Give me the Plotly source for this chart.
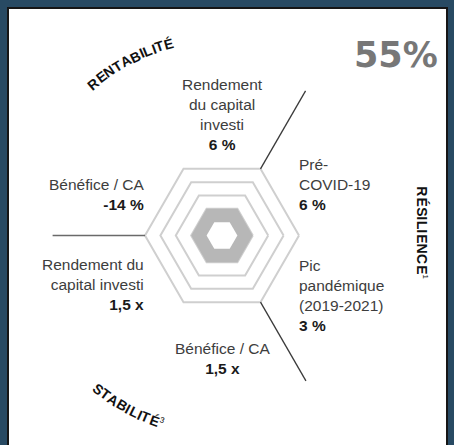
import math
import plotly.graph_objects as go

# ---------------- data ----------------
vertices = ["0°", "60°", "120°", "180°", "240°", "300°"]          # hexagon corners
ring_levels = [1, 2, 3, 4, 5]                                       # concentric hexagons
band_outer = [2, 2, 2, 2, 2, 2]                                     # grey band outer edge
band_inner = [1, 1, 1, 1, 1, 1]                                     # grey band inner edge
separator_vertices = ["60°", "180°", "300°"]                        # pillar boundaries
separator_start = [5, 5, 5]
separator_end = [10.85, 11.0, 10.9]

metric_labels = [
    "Rendement<br>du capital<br>investi",
    "Pré-<br>COVID-19",
    "Pic<br>pandémique<br>(2019-2021)",
    "Bénéfice / CA",
    "Rendement du<br>capital investi",
    "Bénéfice / CA",
]
metric_values = ["6 %", "6 %", "3 %", "1,5 x", "1,5 x", "-14 %"]
pillar_names = ["RENTABILITÉ", "RÉSILIENCE", "STABILITÉ"]
pillar_notes = ["", "1", "3"]
score_text = "55%"

# ---------------- geometry / style ----------------
W, H = 454, 445
CX, CY = 222, 235.5          # centre of the hexagon (px)
UNIT = 15.4                  # px per radial unit
RMAX = 11.1
NAVY = "#284a63"


def pfx(x):
    return x / W


def pfy(y):
    return 1 - y / H


fig = go.Figure()

# grey band
fig.add_trace(go.Scatterpolar(
    r=band_outer + band_outer[:1], theta=vertices + vertices[:1],
    mode="lines", fill="toself", fillcolor="#b7b7b7",
    line=dict(width=0, color="#b7b7b7"), hoverinfo="skip"))
fig.add_trace(go.Scatterpolar(
    r=band_inner + band_inner[:1], theta=vertices + vertices[:1],
    mode="lines", fill="toself", fillcolor="#ffffff",
    line=dict(width=0, color="#ffffff"), hoverinfo="skip"))

# separators between pillars
sep_colors = ["#3a3a3a", "#6a6a6a", "#3a3a3a"]
for v, r0, r1, c in zip(separator_vertices, separator_start, separator_end, sep_colors):
    fig.add_trace(go.Scatterpolar(
        r=[r0, r1], theta=[v, v], mode="lines",
        line=dict(color=c, width=1.3), hoverinfo="skip"))

R_PX = RMAX * UNIT
fig.update_layout(
    width=W, height=H,
    margin=dict(l=0, r=0, t=0, b=0),
    paper_bgcolor=NAVY,
    showlegend=False,
    polar=dict(
        domain=dict(x=[pfx(CX - R_PX), pfx(CX + R_PX)],
                    y=[pfy(CY + R_PX), pfy(CY - R_PX)]),
        bgcolor="rgba(0,0,0,0)",
        gridshape="linear",
        radialaxis=dict(range=[0, RMAX], tickvals=ring_levels, showticklabels=False,
                        ticks="", showline=False, gridcolor="#cfcfcf", gridwidth=1.5),
        angularaxis=dict(type="category", categoryarray=vertices, rotation=0,
                         direction="counterclockwise", showgrid=False, showline=False,
                         showticklabels=False, ticks=""),
    ),
)

# white card with thin dark edge
fig.add_shape(type="rect", xref="paper", yref="paper",
              x0=pfx(8), x1=pfx(447), y0=pfy(460), y1=pfy(8),
              fillcolor="white", line=dict(color="#161616", width=2), layer="below")

# metric labels
LABEL_FONT = dict(family="Liberation Sans, Arial, sans-serif", size=15.5, color="#3d3d3d")
label_pos = [  # (x, y, xanchor, align)
    (222, 115, "center", "center"),
    (297, 184.5, "left", "left"),
    (297, 295, "left", "left"),
    (222, 358.5, "center", "center"),
    (146, 284.5, "right", "right"),
    (146, 194.5, "right", "right"),
]
for lab, val, (x, y, xa, al) in zip(metric_labels, metric_values, label_pos):
    fig.add_annotation(
        x=pfx(x), y=pfy(y), xref="paper", yref="paper", showarrow=False,
        xanchor=xa, yanchor="middle", align=al,
        text=f"{lab}<br><b><span style='color:#1a1a1a'>{val}</span></b>",
        font=LABEL_FONT)

# score
fig.add_annotation(x=pfx(396), y=pfy(55), xref="paper", yref="paper", showarrow=False,
                   xanchor="center", yanchor="middle", text=f"<b>{score_text}</b>",
                   font=dict(family="DejaVu Sans", size=35, color="#777777"))

# pillar titles, letter by letter
ADV = {"R": .722, "E": .667, "N": .722, "T": .59, "A": .70, "B": .722, "I": .278,
       "L": .611, "É": .667, "S": .667, "C": .722}
TFONT = "Liberation Sans, Arial, sans-serif"
TSIZE = 14
TRACK = 1.05


def add_letter(x, y, ang, ch, size):
    fig.add_annotation(x=pfx(x), y=pfy(y), xref="paper", yref="paper", showarrow=False,
                       xanchor="center", yanchor="middle", textangle=ang,
                       text=f"<b>{ch}</b>", font=dict(family=TFONT, size=size, color="#111111"))


def arc_text(word, note, size, r, theta_c, clockwise):
    s = -1 if clockwise else 1
    advs = [ADV[c] * size * TRACK for c in word]
    total = sum(advs)
    start = math.radians(theta_c) - s * (total / 2) / r
    cum = 0.0
    for ch, adv in zip(word, advs):
        th = start + s * (cum + adv / 2) / r
        deg = math.degrees(th)
        ang = 90 - deg if clockwise else -(deg + 90)
        add_letter(CX + r * math.cos(th), CY - r * math.sin(th), ang, ch, size)
        cum += adv
    if note:
        th = start + s * (cum + 2.5) / r
        rr = r - 3 if not clockwise else r + 3
        deg = math.degrees(th)
        ang = 90 - deg if clockwise else -(deg + 90)
        fig.add_annotation(x=pfx(CX + rr * math.cos(th)), y=pfy(CY - rr * math.sin(th)),
                           xref="paper", yref="paper", showarrow=False,
                           xanchor="center", yanchor="middle", textangle=ang,
                           text=note, font=dict(family=TFONT, size=8, color="#111111"))


def vertical_text(word, note, size, x, y_c):
    advs = [ADV[c] * size * TRACK for c in word]
    total = sum(advs)
    y = y_c - total / 2
    for ch, adv in zip(word, advs):
        add_letter(x, y + adv / 2, 90, ch, size)
        y += adv
    if note:
        fig.add_annotation(x=pfx(x + 3), y=pfy(y + 2.5), xref="paper", yref="paper",
                           showarrow=False, xanchor="center", yanchor="middle", textangle=90,
                           text=note, font=dict(family=TFONT, size=8, color="#111111"))


arc_text(pillar_names[0], pillar_notes[0], TSIZE, 199, 118, True)
vertical_text(pillar_names[1], pillar_notes[1], TSIZE, 422, 230)
arc_text(pillar_names[2], pillar_notes[2], TSIZE, 197, -119.5, False)

fig.write_html("out.html", config={"displayModeBar": False},
               post_script="document.body.style.margin='0';document.body.style.overflow='hidden';")
